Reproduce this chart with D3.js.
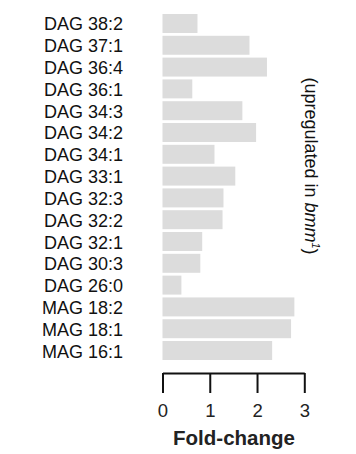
<!DOCTYPE html>
<html>
<head>
<meta charset="utf-8">
<script src="https://cdn.jsdelivr.net/npm/d3@7"></script>
<style>
  body { margin: 0; background: #fff; }
  svg text { font-family: "Liberation Sans", Arial, Helvetica, sans-serif; }
</style>
</head>
<body>
<svg id="chart" width="356" height="454"></svg>
<script>
// lipid species, top to bottom
const lipids = ["DAG 38:2", "DAG 37:1", "DAG 36:4", "DAG 36:1", "DAG 34:3", "DAG 34:2",
  "DAG 34:1", "DAG 33:1", "DAG 32:3", "DAG 32:2", "DAG 32:1", "DAG 30:3", "DAG 26:0",
  "MAG 18:2", "MAG 18:1", "MAG 16:1"];
// fold-change values
const foldChange = [0.74, 1.84, 2.21, 0.63, 1.69, 1.98, 1.10, 1.54, 1.29, 1.27, 0.84,
  0.80, 0.40, 2.79, 2.72, 2.32];
const xTicks = [0, 1, 2, 3];

const svg = d3.select("#chart");

const x = d3.scaleLinear().domain([0, 3]).range([162.5, 304.3]);
const y = d3.scaleBand().domain(lipids).range([14, 360]).paddingInner(0.13).paddingOuter(0);

// bars
svg.append("g")
  .selectAll("rect")
  .data(lipids)
  .join("rect")
    .attr("x", x(0))
    .attr("y", d => y(d))
    .attr("width", (d, i) => x(foldChange[i]) - x(0))
    .attr("height", y.bandwidth())
    .attr("fill", "#dcdcdc");

// category labels
svg.append("g")
  .selectAll("text")
  .data(lipids)
  .join("text")
    .attr("x", 123)
    .attr("y", d => y(d) + y.bandwidth() / 2 + 7)
    .attr("text-anchor", "end")
    .attr("font-size", 18)
    .attr("fill", "#111")
    .text(d => d);

// x axis
const xAxis = d3.axisBottom(x)
  .tickValues(xTicks)
  .tickSize(20)
  .tickSizeOuter(0)
  .tickPadding(11)
  .tickFormat(d3.format("d"));

const gx = svg.append("g")
  .attr("transform", "translate(0,373)")
  .call(xAxis);
gx.select(".domain").attr("stroke", "#111").attr("stroke-width", 2);
gx.selectAll(".tick line").attr("stroke", "#111").attr("stroke-width", 2);
gx.selectAll(".tick text")
  .attr("font-size", 18.5)
  .attr("font-family", "Liberation Sans, Arial, sans-serif")
  .attr("fill", "#222");

svg.append("text")
  .attr("x", 234)
  .attr("y", 445)
  .attr("text-anchor", "middle")
  .attr("font-size", 20.5)
  .attr("font-weight", "bold")
  .attr("fill", "#222")
  .text("Fold-change");

// side note, rotated
const note = svg.append("text")
  .attr("transform", "translate(305,166) rotate(90)")
  .attr("text-anchor", "middle")
  .attr("font-size", 18)
  .attr("fill", "#111");
note.append("tspan").text("(upregulated in ");
note.append("tspan").attr("font-style", "italic").text("bmm");
note.append("tspan").attr("font-style", "italic").attr("font-size", 11).attr("dy", -7).text("1");
note.append("tspan").attr("dy", 7).text(")");
</script>
</body>
</html>
